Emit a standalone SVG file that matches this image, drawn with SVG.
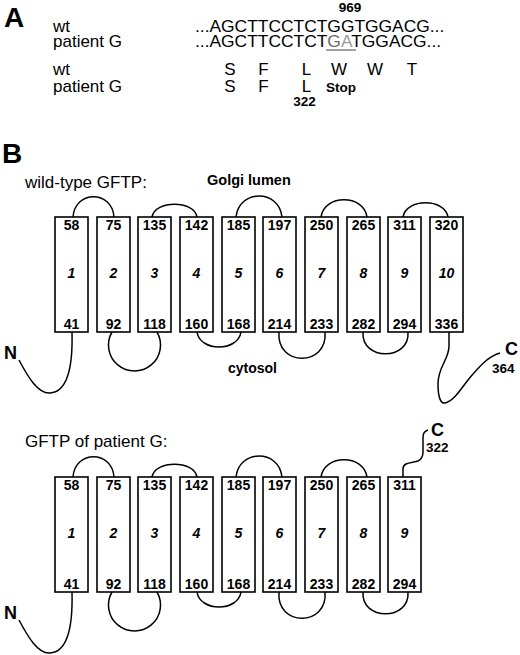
<svg xmlns="http://www.w3.org/2000/svg" width="520" height="655" viewBox="0 0 520 655">
<style>
text{font-family:"Liberation Sans",Arial,Helvetica,sans-serif;fill:#000}
.panel{font-size:28px;font-weight:bold}
.lbl{font-size:17px}
.seq{font-size:17.4px}
.aa{font-size:17px;text-anchor:middle}
.bs{font-size:13.5px;font-weight:bold}
.num{font-size:14px;font-weight:bold;text-anchor:middle}
.tm{font-size:14px;font-weight:bold;font-style:italic;text-anchor:middle}
.term{font-size:18px;font-weight:bold}
.box{fill:#fff;stroke:#000;stroke-width:1.6}
.ln{fill:none;stroke:#000;stroke-width:1.5}
</style>
<rect width="520" height="655" fill="#fff"/>
<!-- Panel A -->
<g id="panelA">
<text class="panel" x="4" y="27">A</text>
<text class="lbl" x="53" y="32">wt</text>
<text class="lbl" x="53" y="47">patient G</text>
<text class="lbl" x="53" y="75">wt</text>
<text class="lbl" x="53" y="92">patient G</text>
<text class="bs" x="350" y="12" text-anchor="middle">969</text>
<text class="seq" x="195" y="32">...AGCTTCCTCTGGTGGACG...</text>
<text class="seq" x="195" y="47">...AGCTTCCTCT<tspan fill="#6a6a6a">G</tspan><tspan fill="#9a9a9a">A</tspan>TGGACG...</text>
<line x1="326" y1="50" x2="356" y2="50" stroke="#8a8a8a" stroke-width="1.6"/>
<text class="aa" x="230" y="75">S</text>
<text class="aa" x="263.5" y="75">F</text>
<text class="aa" x="306.5" y="75">L</text>
<text class="aa" x="339" y="75">W</text>
<text class="aa" x="375" y="75">W</text>
<text class="aa" x="412" y="75">T</text>
<text class="aa" x="230" y="92">S</text>
<text class="aa" x="263.5" y="92">F</text>
<text class="aa" x="306.5" y="92">L</text>
<text class="bs" x="341" y="92" text-anchor="middle">Stop</text>
<text class="bs" x="304.5" y="106" text-anchor="middle">322</text>
</g>
<!-- Panel B -->
<text class="panel" x="2" y="163">B</text>
<text class="lbl" x="25" y="188">wild-type GFTP:</text>
<text x="207" y="185" style="font-size:14.5px;font-weight:bold">Golgi lumen</text>
<text x="228" y="373" style="font-size:14px;font-weight:bold">cytosol</text>
<text class="lbl" x="25" y="447">GFTP of patient G:</text>

<g id="connectors">
<!-- wild-type lumenal loops -->
<path class="ln" d="M73,217 C75,190 112,190 114,217"/>
<path class="ln" d="M152,217 C155,200 194,200 197,217"/>
<path class="ln" d="M236,217 C239,189 279,189 282,217"/>
<path class="ln" d="M321,217 C324,194 364,194 367,217"/>
<path class="ln" d="M403,217 C406,198 445,198 448,217"/>
<!-- wild-type cytosolic loops -->
<path class="ln" d="M112,332 A26,26 0 1 0 157,332"/>
<path class="ln" d="M197,332 C200,352 238,352 241,332"/>
<path class="ln" d="M279,332 C276,367 328,367 325,332"/>
<path class="ln" d="M363,332 C361,361 410,361 408,332"/>
<!-- wild-type termini -->
<path class="ln" d="M72,332 C73,370 66,392 50,393 C38,394 28,377 19,360"/>
<path class="ln" d="M449,332 L449,346 C449,360 438,366 438,384 C438,398 441,404 445,403 C455,401 463,385 473,374 C481,365 489,356 500,353"/>
<!-- patient lumenal loops -->
<path class="ln" d="M73,477 C75,450 112,450 114,477"/>
<path class="ln" d="M152,477 C155,460 194,460 197,477"/>
<path class="ln" d="M236,477 C239,449 279,449 282,477"/>
<path class="ln" d="M321,477 C324,454 364,454 367,477"/>
<!-- patient cytosolic loops -->
<path class="ln" d="M112,592 A26,26 0 1 0 157,592"/>
<path class="ln" d="M197,592 C200,612 238,612 241,592"/>
<path class="ln" d="M279,592 C276,627 328,627 325,592"/>
<path class="ln" d="M363,592 C361,621 410,621 408,592"/>
<!-- patient termini -->
<path class="ln" d="M72,592 C73,630 66,652 50,653 C38,654 28,637 19,620"/>
<path class="ln" d="M403,477 L403,469 C403,462 412,463 418,461 C422,459 423,456 423,452 L423,437 C423,433 425,431 428,430"/>
</g>

<g id="wt-N"><text class="term" x="4" y="359">N</text></g>
<g id="wt-C"><text class="term" x="505" y="355">C</text><text class="bs" x="492" y="373">364</text></g>
<g id="pg-N"><text class="term" x="4" y="619">N</text></g>
<g id="pg-C"><text class="term" x="431" y="436">C</text><text class="bs" x="426" y="452">322</text></g>

<!-- wild-type TM segments -->
<g id="wt-tm1"><rect class="box" x="55" y="217" width="33" height="115"/><text class="num" x="71.5" y="230">58</text><text class="tm" x="71.5" y="278">1</text><text class="num" x="71.5" y="329">41</text></g>
<g id="wt-tm2"><rect class="box" x="97" y="217" width="33" height="115"/><text class="num" x="113.5" y="230">75</text><text class="tm" x="113.5" y="278">2</text><text class="num" x="113.5" y="329">92</text></g>
<g id="wt-tm3"><rect class="box" x="138" y="217" width="33" height="115"/><text class="num" x="154.5" y="230">135</text><text class="tm" x="154.5" y="278">3</text><text class="num" x="154.5" y="329">118</text></g>
<g id="wt-tm4"><rect class="box" x="180" y="217" width="33" height="115"/><text class="num" x="196.5" y="230">142</text><text class="tm" x="196.5" y="278">4</text><text class="num" x="196.5" y="329">160</text></g>
<g id="wt-tm5"><rect class="box" x="222" y="217" width="33" height="115"/><text class="num" x="238.5" y="230">185</text><text class="tm" x="238.5" y="278">5</text><text class="num" x="238.5" y="329">168</text></g>
<g id="wt-tm6"><rect class="box" x="263" y="217" width="33" height="115"/><text class="num" x="279.5" y="230">197</text><text class="tm" x="279.5" y="278">6</text><text class="num" x="279.5" y="329">214</text></g>
<g id="wt-tm7"><rect class="box" x="305" y="217" width="33" height="115"/><text class="num" x="321.5" y="230">250</text><text class="tm" x="321.5" y="278">7</text><text class="num" x="321.5" y="329">233</text></g>
<g id="wt-tm8"><rect class="box" x="347" y="217" width="33" height="115"/><text class="num" x="363.5" y="230">265</text><text class="tm" x="363.5" y="278">8</text><text class="num" x="363.5" y="329">282</text></g>
<g id="wt-tm9"><rect class="box" x="388" y="217" width="33" height="115"/><text class="num" x="404.5" y="230">311</text><text class="tm" x="404.5" y="278">9</text><text class="num" x="404.5" y="329">294</text></g>
<g id="wt-tm10"><rect class="box" x="430" y="217" width="33" height="115"/><text class="num" x="446.5" y="230">320</text><text class="tm" x="446.5" y="278">10</text><text class="num" x="446.5" y="329">336</text></g>

<!-- patient G TM segments -->
<g id="pg-tm1"><rect class="box" x="55" y="477" width="33" height="115"/><text class="num" x="71.5" y="490">58</text><text class="tm" x="71.5" y="538">1</text><text class="num" x="71.5" y="589">41</text></g>
<g id="pg-tm2"><rect class="box" x="97" y="477" width="33" height="115"/><text class="num" x="113.5" y="490">75</text><text class="tm" x="113.5" y="538">2</text><text class="num" x="113.5" y="589">92</text></g>
<g id="pg-tm3"><rect class="box" x="138" y="477" width="33" height="115"/><text class="num" x="154.5" y="490">135</text><text class="tm" x="154.5" y="538">3</text><text class="num" x="154.5" y="589">118</text></g>
<g id="pg-tm4"><rect class="box" x="180" y="477" width="33" height="115"/><text class="num" x="196.5" y="490">142</text><text class="tm" x="196.5" y="538">4</text><text class="num" x="196.5" y="589">160</text></g>
<g id="pg-tm5"><rect class="box" x="222" y="477" width="33" height="115"/><text class="num" x="238.5" y="490">185</text><text class="tm" x="238.5" y="538">5</text><text class="num" x="238.5" y="589">168</text></g>
<g id="pg-tm6"><rect class="box" x="263" y="477" width="33" height="115"/><text class="num" x="279.5" y="490">197</text><text class="tm" x="279.5" y="538">6</text><text class="num" x="279.5" y="589">214</text></g>
<g id="pg-tm7"><rect class="box" x="305" y="477" width="33" height="115"/><text class="num" x="321.5" y="490">250</text><text class="tm" x="321.5" y="538">7</text><text class="num" x="321.5" y="589">233</text></g>
<g id="pg-tm8"><rect class="box" x="347" y="477" width="33" height="115"/><text class="num" x="363.5" y="490">265</text><text class="tm" x="363.5" y="538">8</text><text class="num" x="363.5" y="589">282</text></g>
<g id="pg-tm9"><rect class="box" x="388" y="477" width="33" height="115"/><text class="num" x="404.5" y="490">311</text><text class="tm" x="404.5" y="538">9</text><text class="num" x="404.5" y="589">294</text></g>
</svg>
